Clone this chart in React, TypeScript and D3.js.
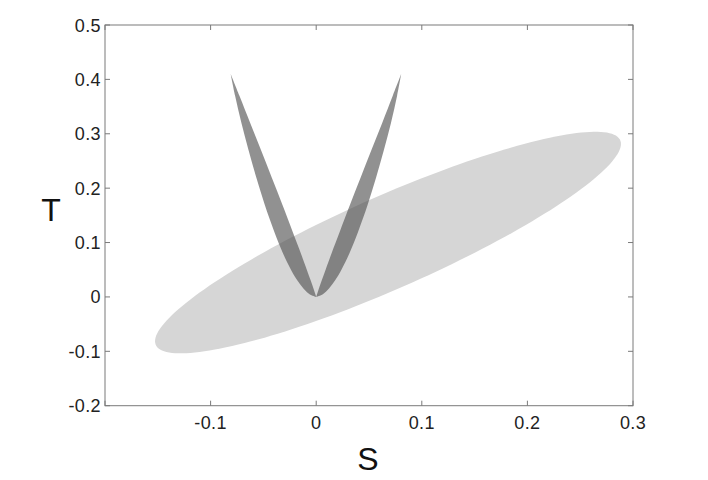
import React from "react";
import * as d3 from "d3";

const X_TICKS = [-0.2, -0.1, 0, 0.1, 0.2, 0.3];
const X_LABELS = ["", "-0.1", "0", "0.1", "0.2", "0.3"];
const Y_TICKS = [-0.2, -0.1, 0, 0.1, 0.2, 0.3, 0.4, 0.5];
const Y_LABELS = ["-0.2", "-0.1", "0", "0.1", "0.2", "0.3", "0.4", "0.5"];

// V-shaped region (two leaves), boundaries
const LEAF_T = [0, 0.005, 0.015, 0.03, 0.05, 0.08, 0.12, 0.17, 0.22, 0.27, 0.32, 0.37, 0.41];
const LEFT_OUTER_S = [0, -0.0063, -0.0119, -0.0178, -0.0239, -0.0314, -0.0397, -0.0488, -0.0568, -0.0641, -0.0708, -0.0768, -0.081];
const LEFT_INNER_S = [0, -0.0008, -0.0025, -0.0052, -0.0089, -0.0145, -0.0223, -0.0321, -0.0422, -0.0523, -0.0625, -0.0727, -0.081];
const RIGHT_OUTER_S = [0, 0.0063, 0.0119, 0.0178, 0.0239, 0.0314, 0.0397, 0.0488, 0.0568, 0.0641, 0.0708, 0.0766, 0.0805];
const RIGHT_INNER_S = [0, 0.0008, 0.0025, 0.0052, 0.0089, 0.0145, 0.0223, 0.0321, 0.0422, 0.0523, 0.0625, 0.0725, 0.0805];

// Ellipse (linearised region): centre, spreads, correlation
const ELLIPSE_CENTER = [0.068, 0.1];
const ELLIPSE_SD = [0.2206, 0.2037];
const ELLIPSE_RHO = 0.89;

const W = 708;
const H = 480;
const M = { left: 105, right: 633, top: 25, bottom: 405.7 };

export default function App() {
  const x = d3.scaleLinear().domain([-0.2, 0.3]).range([M.left, M.right]);
  const y = d3.scaleLinear().domain([-0.2, 0.5]).range([M.bottom, M.top]);

  const ellPts: [number, number][] = d3.range(0, 360, 2).map((deg) => {
    const t = (deg * Math.PI) / 180;
    const s = ELLIPSE_CENTER[0] + ELLIPSE_SD[0] * Math.cos(t);
    const tt =
      ELLIPSE_CENTER[1] +
      ELLIPSE_SD[1] * (ELLIPSE_RHO * Math.cos(t) + Math.sqrt(1 - ELLIPSE_RHO * ELLIPSE_RHO) * Math.sin(t));
    return [x(s), y(tt)];
  });
  const ellPath = d3.line().curve(d3.curveLinearClosed)(ellPts) || "";

  const leaf = (outer: number[], inner: number[]) => {
    const o: [number, number][] = outer.map((s, i) => [x(s), y(LEAF_T[i])]);
    const n: [number, number][] = inner.map((s, i) => [x(s), y(LEAF_T[i])]).reverse() as [number, number][];
    const gen = d3.line().curve(d3.curveCatmullRom.alpha(0.5));
    const a = gen(o) || "";
    const b = (gen(n) || "").replace(/^M[^C L]*/, "");
    return a + b.replace(/^C/, "C") + "Z";
  };

  const font = "'Liberation Sans', Arial, Helvetica, sans-serif";
  const axisColor = "#7a7a7a";
  const tickLen = 5;

  return (
    <svg width={W} height={H} style={{ position: "absolute", left: 0, top: 0, background: "#fff" }}>
      <path d={ellPath} fill="rgb(214,214,214)" />
      <path d={leaf(LEFT_OUTER_S, LEFT_INNER_S)} fill="rgb(81,81,81)" fillOpacity={0.63} />
      <path d={leaf(RIGHT_OUTER_S, RIGHT_INNER_S)} fill="rgb(81,81,81)" fillOpacity={0.63} />

      <rect x={M.left} y={M.top} width={M.right - M.left} height={M.bottom - M.top} fill="none" stroke={axisColor} strokeWidth={1} />

      {X_TICKS.map((v, i) => (
        <g key={"x" + i}>
          <line x1={x(v)} x2={x(v)} y1={M.bottom} y2={M.bottom - tickLen} stroke={axisColor} />
          <line x1={x(v)} x2={x(v)} y1={M.top} y2={M.top + tickLen} stroke={axisColor} />
          <text x={x(v)} y={429} textAnchor="middle" fontFamily={font} fontSize={18} letterSpacing={0.4} fill="#222">
            {X_LABELS[i]}
          </text>
        </g>
      ))}
      {Y_TICKS.map((v, i) => (
        <g key={"y" + i}>
          <line x1={M.left} x2={M.left + tickLen} y1={y(v)} y2={y(v)} stroke={axisColor} />
          <line x1={M.right} x2={M.right - tickLen} y1={y(v)} y2={y(v)} stroke={axisColor} />
          <text x={101} y={y(v) + 6.5} textAnchor="end" fontFamily={font} fontSize={18} letterSpacing={0.4} fill="#222">
            {Y_LABELS[i]}
          </text>
        </g>
      ))}

      <text x={51} y={221} textAnchor="middle" fontFamily={font} fontSize={32} fill="#111">
        T
      </text>
      <text x={368} y={470} textAnchor="middle" fontFamily={font} fontSize={32} fill="#111">
        S
      </text>
    </svg>
  );
}
